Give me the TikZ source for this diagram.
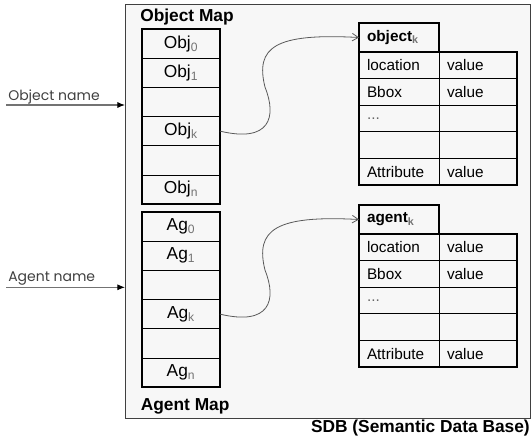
\documentclass[tikz,border=0pt]{standalone}
\usepackage{fontspec}
\setmainfont{Liberation Sans}
\newfontfamily\gothic{Poppins}
\usepackage{tikz}
\usetikzlibrary{positioning,arrows.meta,calc}
\newcommand{\lowsub}[1]{\textsubscript{\color{black!55}#1}}
\tikzset{
  sdbbox/.style={draw=black!75,fill=black!3,line width=0.6pt,inner sep=0pt,outer sep=0pt,minimum width=303.75pt,minimum height=310.5pt},
  mapcell/.style={draw,line width=0.5pt,inner sep=0pt,outer sep=0pt,minimum width=58.5pt,minimum height=21.9pt,font=\fontsize{13}{15}\selectfont},
  keycell/.style={draw,line width=0.5pt,inner xsep=6pt,inner ysep=0pt,outer sep=0pt,text width=48pt,align=left,minimum height=19.95pt,font=\fontsize{11.5}{13}\selectfont},
  valcell/.style={keycell,text width=46.5pt},
  headcell/.style={keycell,line width=1.4pt,minimum height=21.75pt,font=\fontsize{11.5}{13}\selectfont\bfseries},
  frame/.style={line width=1.4pt},
  maplabel/.style={anchor=base west,inner sep=0pt,font=\fontsize{13}{15}\selectfont\bfseries},
  namelabel/.style={anchor=base west,inner sep=0pt,text=black!75,font=\fontsize{10.5}{12}\selectfont\gothic},
  namearrow/.style={draw=black!55,line width=0.8pt,-{Latex[length=2mm,width=1.6mm,color=black]}},
  link/.style={draw=black!65,line width=0.6pt,-{Straight Barb[length=1.6mm,width=2mm]}},
}
\begin{document}
\begin{tikzpicture}[x=0.75pt,y=0.75pt]
  \useasboundingbox (0,0) rectangle (531,-447);
  % SDB box
  \node[sdbbox] (sdb) at (327.5,-211) {};
  \node[maplabel] (objmap) at (140,-21.7) {Object Map};
  \node[maplabel] (agmap) at (140.6,-410.7) {Agent Map};
  \node[anchor=base east,inner sep=0pt,font=\fontsize{13}{15}\selectfont\bfseries] (sdbname) at (530,-432.3) {SDB (Semantic Data Base)};
  % maps
  \foreach \lbl [count=\i from 0] in {Obj\lowsub{0},Obj\lowsub{1},{},Obj\lowsub{k},{},Obj\lowsub{n}}
    \node[mapcell] (obj\i) at (181,{-43.6-29.17*\i}) {\raisebox{-2.5pt}{\lbl}};
  \foreach \lbl [count=\i from 0] in {Ag\lowsub{0},Ag\lowsub{1},{},Ag\lowsub{k},{},Ag\lowsub{n}}
    \node[mapcell] (ag\i) at (181,{-226.6-29.17*\i}) {\raisebox{-2.5pt}{\lbl}};
  \draw[frame] (obj0.north west) rectangle (obj5.south east);
  \draw[frame] (ag0.north west) rectangle (ag5.south east);
  % attribute tables
  \node[headcell] (objhead) at (399,-37.5) {object\lowsub{k}};
  \node[headcell] (aghead) at (399,-219.5) {agent\lowsub{k}};
  \foreach \key/\val [count=\i from 0] in {{location}/{value},{Bbox}/{value},{\color{black!60}...}/{},{}/{},{Attribute}/{value}}{
    \node[keycell] (objkey\i) at (399,{-65.3-26.6*\i}) {\key};
    \node[valcell] (objval\i) at (478,{-65.3-26.6*\i}) {\val};
    \node[keycell] (agkey\i) at (399,{-247.3-26.6*\i}) {\key};
    \node[valcell] (agval\i) at (478,{-247.3-26.6*\i}) {\val};
  }
  \draw[frame] (objkey0.north west) rectangle (objval4.south east);
  \draw[frame] (agkey0.north west) rectangle (agval4.south east);
  % inputs
  \node[namelabel] (objname) at (8,-100) {Object name};
  \node[namelabel] (agname) at (8,-281.7) {Agent name};
  \coordinate (objin) at (6,-105);
  \coordinate (agin) at (6,-287.3);
  \draw[namearrow] (objin) -- (objin -| sdb.west);
  \draw[namearrow] (agin) -- (agin -| sdb.west);
  % links
  \draw[link] (obj3.east) .. controls +(50,-12) and +(12,-30) .. ++(45,44)
    .. controls +(-10,40) and +(-84,4.5) .. (objhead.west);
  \draw[link] (ag3.east) .. controls +(50,-12) and +(12,-30) .. ++(45,44)
    .. controls +(-10,40) and +(-84,4.5) .. (aghead.west);
\end{tikzpicture}
\end{document}
